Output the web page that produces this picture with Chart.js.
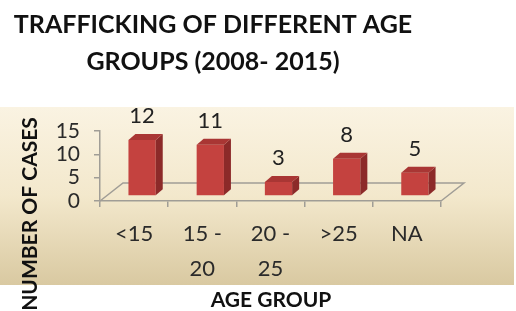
<!DOCTYPE html>
<html>
<head>
<meta charset="utf-8">
<script src="https://cdn.jsdelivr.net/npm/chart.js@4.4.0/dist/chart.umd.min.js"></script>
<style>
  html, body { margin: 0; padding: 0; background: #fff; }
  #wrap { width: 516px; height: 311px; }
</style>
</head>
<body>
<div id="wrap"><canvas id="chart" width="516" height="311"></canvas></div>
<script>
const AGE_GROUPS = [['<15'], ['15 -', '20'], ['20 -', '25'], ['>25'], ['NA']];
const CASES = [12, 11, 3, 8, 5];
const Y_MIN = 0, Y_MAX = 15, Y_STEP = 5;
const TITLE_LINES = ['TRAFFICKING OF DIFFERENT AGE', 'GROUPS (2008- 2015)'];
const Y_TITLE = 'NUMBER OF CASES';
const X_TITLE = 'AGE GROUP';

const FONT = 'Lato, "Open Sans", sans-serif';
const AXIS_GREY = '#a09d96';
// fake 3d offsets
const BAR_DX = 8, BAR_DY = -5;
const DEPTH_DX = 7, DEPTH_DY = -6;
const FLOOR_DX = 23, FLOOR_DY = -18;

const fake3d = {
    id: 'fake3d',
    beforeDraw(chart) {
        const ctx = chart.ctx;
        ctx.save();
        ctx.fillStyle = '#fff';
        ctx.fillRect(0, 0, chart.width, chart.height);
        const g = ctx.createLinearGradient(0, 107, 0, 285);
        g.addColorStop(0, '#faf3e2');
        g.addColorStop(0.5, '#f3e8cc');
        g.addColorStop(1, '#d9c9a1');
        ctx.fillStyle = g;
        ctx.fillRect(0, 107, 514, 178);

        ctx.fillStyle = '#111';
        ctx.font = 'bold 25px ' + FONT;
        ctx.textAlign = 'center';
        ctx.textBaseline = 'alphabetic';
        ctx.fillText(TITLE_LINES[0], 213, 33);
        ctx.fillText(TITLE_LINES[1], 213, 70);

        ctx.font = 'bold 21px ' + FONT;
        ctx.textBaseline = 'middle';
        ctx.fillText(X_TITLE, 271, 300);

        ctx.translate(30, 214);
        ctx.rotate(-Math.PI / 2);
        ctx.font = 'bold 21px ' + FONT;
        ctx.fillText(Y_TITLE, 0, 0);
        ctx.restore();
    },
    beforeDatasetsDraw(chart) {
        const { ctx, chartArea: a } = chart;
        ctx.save();
        ctx.strokeStyle = AXIS_GREY;
        ctx.lineWidth = 1.5;
        ctx.beginPath();
        ctx.moveTo(a.left, a.bottom);
        ctx.lineTo(a.left + FLOOR_DX, a.bottom + FLOOR_DY);
        ctx.lineTo(a.right + FLOOR_DX, a.bottom + FLOOR_DY);
        ctx.lineTo(a.right, a.bottom);
        ctx.stroke();
        ctx.translate(BAR_DX, BAR_DY);
    },
    afterDatasetsDraw(chart) {
        const ctx = chart.ctx;
        ctx.restore();
        ctx.save();
        const bars = chart.getDatasetMeta(0).data;
        bars.forEach((bar, i) => {
            const xl = bar.x - bar.width / 2 + BAR_DX;
            const xr = bar.x + bar.width / 2 + BAR_DX;
            const yt = bar.y + BAR_DY;
            const yb = bar.base + BAR_DY;
            // side
            ctx.fillStyle = '#8c2a29';
            ctx.beginPath();
            ctx.moveTo(xr, yt);
            ctx.lineTo(xr + DEPTH_DX, yt + DEPTH_DY);
            ctx.lineTo(xr + DEPTH_DX, yb + DEPTH_DY);
            ctx.lineTo(xr, yb);
            ctx.closePath();
            ctx.fill();
            // top
            ctx.fillStyle = '#a93634';
            ctx.beginPath();
            ctx.moveTo(xl, yt);
            ctx.lineTo(xl + DEPTH_DX, yt + DEPTH_DY);
            ctx.lineTo(xr + DEPTH_DX, yt + DEPTH_DY);
            ctx.lineTo(xr, yt);
            ctx.closePath();
            ctx.fill();
            // value label
            ctx.fillStyle = '#222';
            ctx.font = '22px ' + FONT;
            ctx.textAlign = 'center';
            ctx.textBaseline = 'middle';
            ctx.fillText(String(CASES[i]), bar.x + BAR_DX, yt - 24);
        });
        ctx.restore();
    }
};

const CHART = document.getElementById('chart');
const chart = new Chart(CHART, {
    type: 'bar',
    data: {
        labels: AGE_GROUPS,
        datasets: [
            {
                label: 'Cases',
                data: CASES,
                backgroundColor: '#c4423f',
                borderWidth: 0,
                categoryPercentage: 1,
                barPercentage: 0.4,
                clip: false
            }
        ]
    },
    options: {
        responsive: false,
        animation: false,
        devicePixelRatio: 1,
        layout: {
            padding: { left: 0, top: 131, right: 75, bottom: 0 }
        },
        plugins: {
            legend: { display: false },
            title: { display: false },
            tooltip: { enabled: false }
        },
        scales: {
            x: {
                offset: true,
                afterFit(s) { s.height = 110; },
                grid: {
                    offset: true,
                    drawOnChartArea: false,
                    tickLength: 6,
                    color: AXIS_GREY,
                    lineWidth: 1.5
                },
                border: { display: true, color: AXIS_GREY, width: 1.5 },
                ticks: {
                    font: { family: FONT, size: 22, lineHeight: 1.6 },
                    color: '#2a2a2a',
                    padding: 9,
                    maxRotation: 0,
                    autoSkip: false
                }
            },
            y: {
                min: Y_MIN,
                max: Y_MAX,
                afterFit(s) { s.width = 100; },
                grid: {
                    drawOnChartArea: false,
                    tickLength: 6,
                    color: AXIS_GREY,
                    lineWidth: 1.5
                },
                border: { display: true, color: AXIS_GREY, width: 1.5 },
                ticks: {
                    stepSize: Y_STEP,
                    autoSkip: false,
                    font: { family: FONT, size: 21, lineHeight: 1 },
                    color: '#2a2a2a',
                    padding: 14
                }
            }
        }
    },
    plugins: [fake3d]
});
</script>
</body>
</html>
